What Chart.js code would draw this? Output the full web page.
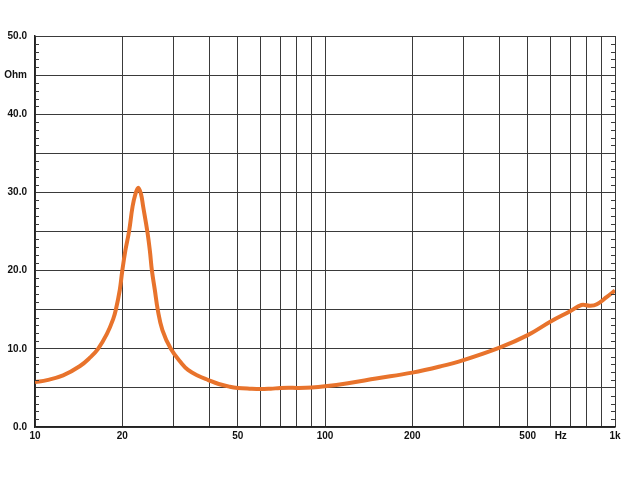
<!DOCTYPE html>
<html>
<head>
<meta charset="utf-8">
<script src="https://cdn.jsdelivr.net/npm/chart.js@4/dist/chart.umd.min.js"></script>
<style>
  html, body { margin: 0; padding: 0; background: #fff; }
  #wrap { width: 638px; height: 478px; }
</style>
</head>
<body>
<div id="wrap"><canvas id="impedanceChart" width="638" height="478"></canvas></div>
<script>
// Impedance curve (Hz -> Ohm)
const freqs = [10, 11, 12.5, 14.3, 15.5, 16.5, 17.7, 18.6, 19.0, 19.6, 20.0, 20.5, 21.1, 21.7, 22.2,
  22.7, 23.2, 23.6, 24.4, 24.9, 25.3, 25.9, 26.5, 27.5, 29.4, 32.0, 33.7, 36.5, 39.6, 43, 47, 50, 55,
  60, 65, 70, 75, 80, 90, 100, 120, 150, 200, 250, 300, 400, 500, 600, 700, 766, 822, 866, 935, 1000];
const ohms = [5.75, 6.0, 6.6, 7.8, 8.9, 10.0, 11.9, 13.8, 15.0, 17.5, 20.0, 22.6, 25.0, 28.2, 29.8,
  30.6, 29.8, 28.2, 25.0, 22.5, 20.0, 17.5, 15.0, 12.4, 10.0, 8.15, 7.3, 6.55, 6.0, 5.5, 5.15, 5.0, 4.9,
  4.85, 4.9, 4.98, 5.02, 5.0, 5.05, 5.2, 5.6, 6.2, 6.95, 7.75, 8.55, 10.15, 11.75, 13.5, 14.8, 15.6,
  15.5, 15.7, 16.6, 17.45];

// X grid positions and the labels shown under the axis
const xGrid = [10, 20, 30, 40, 50, 60, 70, 80, 90, 100, 200, 300, 400, 500, 600, 700, 800, 900, 1000];
const xLabels = { 10: '10', 20: '20', 50: '50', 100: '100', 200: '200', 500: '500', 650: 'Hz', 1000: '1k' };
const hzPos = 650;

// Y labels
const yLabels = { 0: '0.0', 10: '10.0', 20: '20.0', 30: '30.0', 40: '40.0', 45: 'Ohm', 50: '50.0' };

const gridColor = '#3a3a3a';
const labelFont = { family: 'Liberation Sans', size: 10, weight: 'bold' };

// short inner ticks every 1 Ohm on both side axes
const minorTicks = {
  id: 'minorTicks',
  afterDatasetsDraw(chart) {
    const { ctx, chartArea, scales } = chart;
    ctx.save();
    ctx.strokeStyle = gridColor;
    ctx.lineWidth = 1;
    for (let v = 1; v < 50; v++) {
      if (v % 5 === 0) continue;
      const y = Math.round(scales.y.getPixelForValue(v)) + 0.5;
      ctx.beginPath();
      ctx.moveTo(chartArea.left, y);
      ctx.lineTo(chartArea.left + 4, y);
      ctx.moveTo(chartArea.right, y);
      ctx.lineTo(chartArea.right - 4, y);
      ctx.stroke();
    }
    ctx.restore();
  }
};

const ctx = document.getElementById('impedanceChart').getContext('2d');
new Chart(ctx, {
  type: 'line',
  data: {
    datasets: [{
      data: freqs.map((f, i) => ({ x: f, y: ohms[i] })),
      borderColor: '#e8732c',
      borderWidth: 4,
      pointRadius: 0,
      tension: 0.4,
      fill: false
    }]
  },
  options: {
    responsive: false,
    animation: false,
    layout: { padding: { top: 36, right: 23, left: 0, bottom: 0 } },
    plugins: {
      legend: { display: false },
      tooltip: { enabled: false }
    },
    scales: {
      x: {
        type: 'logarithmic',
        min: 10,
        max: 1000,
        afterBuildTicks: (scale) => {
          scale.ticks = xGrid.concat([hzPos]).map(v => ({ value: v }));
        },
        afterFit: (scale) => { scale.height = 51; },
        ticks: {
          autoSkip: false,
          maxRotation: 0,
          padding: 3,
          color: '#111',
          font: labelFont,
          callback: (value) => xLabels[value] || ''
        },
        grid: {
          color: (c) => (c.tick && c.tick.value === hzPos) ? 'rgba(0,0,0,0)' : gridColor,
          lineWidth: 1,
          drawTicks: false
        },
        border: { color: '#222', width: 1.5 }
      },
      y: {
        min: 0,
        max: 50,
        afterFit: (scale) => { scale.width = 35; },
        ticks: {
          stepSize: 5,
          autoSkip: false,
          padding: 8,
          color: '#111',
          font: labelFont,
          callback: (value) => yLabels[value] || ''
        },
        grid: {
          color: gridColor,
          lineWidth: 1,
          drawTicks: false
        },
        border: { color: '#222', width: 1.5 }
      }
    }
  },
  plugins: [minorTicks]
});
</script>
</body>
</html>
